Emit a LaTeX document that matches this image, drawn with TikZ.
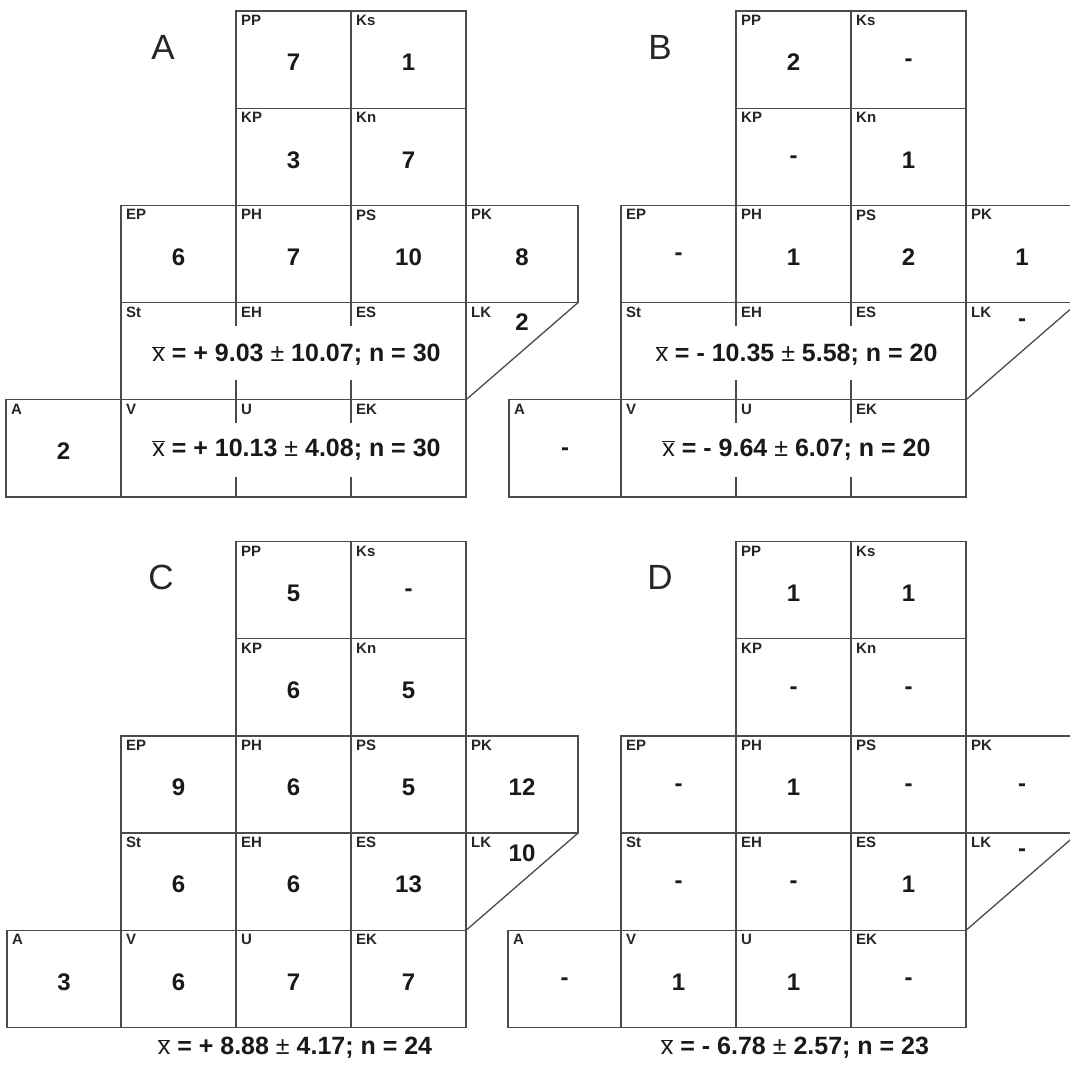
\documentclass[tikz,border=0pt]{standalone}
\usepackage{fontspec}
\setmainfont{Liberation Sans}
\usetikzlibrary{calc}
\definecolor{linec}{RGB}{75,75,75}
\newcommand\xbarsym{{\mdseries$\overline{\mbox{x}}$}}
\newcommand\pmsym{{\mdseries ±}}
\tikzset{
  cellst/.style={draw=linec, line width=1.3pt, rectangle, inner sep=0pt, outer sep=0pt,
                 minimum height=97.2pt, anchor=north west},
  labst/.style={font=\fontsize{15}{15}\selectfont\bfseries, inner sep=0pt, anchor=north west, text=black!85},
  numst/.style={font=\fontsize{24}{24}\selectfont\bfseries, inner sep=0pt, text=black!90},
  formst/.style={font=\fontsize{25}{25}\selectfont\bfseries, inner sep=0pt, text=black!90},
  panelst/.style={font=\fontsize{35}{36}\selectfont, inner sep=0pt, text=black!85},
  edge/.style={draw=linec, line width=1.3pt}
}
% name, x, y, width, label, value
\newcommand\cellbox[6]{%
  \node[cellst, minimum width=#4pt] (#1) at (#2,#3) {};
  \node[labst] (#1-l) at ([shift={(5pt,-4pt)}]#1.north west) {#5};
  \node[numst] (#1-v) at ([yshift=-3pt]#1.center) {#6};
}
% upper part: PP Ks KP Kn EP PH PS PK
\newcommand\upperpart[8]{%
  \cellbox{PP}{0}{0}{115}{PP}{#1}
  \cellbox{Ks}{115}{0}{115}{Ks}{#2}
  \cellbox{KP}{0}{97.2}{115}{KP}{#3}
  \cellbox{Kn}{115}{97.2}{115}{Kn}{#4}
  \cellbox{EP}{-115}{194.4}{115}{EP}{#5}
  \cellbox{PH}{0}{194.4}{115}{PH}{#6}
  \cellbox{PS}{115}{194.4}{115}{PS}{#7}
  \cellbox{PK}{230}{194.4}{112}{PK}{#8}
}
% LK cell: value
\newcommand\lkcell[1]{%
  \coordinate (LKb) at (230,388.8);
  \draw[edge] (PK.south east) -- (LKb);
  \node[labst] (LK-l) at ([shift={(5pt,-4pt)}]PK.south west) {LK};
  \node[numst] (LK-v) at ([shift={(56pt,-20pt)}]PK.south west) {#1};
}
% merged lower part (panels A, B): formula1, formula2
\newcommand\mergedpart[2]{%
  \node[cellst, minimum width=345pt] (StB) at (-115,291.6) {};
  \node[cellst, minimum width=345pt] (VB) at (-115,388.8) {};
  \coordinate (t1) at (0,291.6);
  \coordinate (t2) at (115,291.6);
  \coordinate (b1) at (0,388.8);
  \coordinate (b2) at (115,388.8);
  \coordinate (e1) at (0,486);
  \coordinate (e2) at (115,486);
  \draw[edge] (t1) -- ++(0,23);
  \draw[edge] (t2) -- ++(0,23);
  \draw[edge] (b1) -- ++(0,-20);
  \draw[edge] (b2) -- ++(0,-20);
  \draw[edge] (b1) -- ++(0,23);
  \draw[edge] (b2) -- ++(0,23);
  \draw[edge] (e1) -- ++(0,-20);
  \draw[edge] (e2) -- ++(0,-20);
  \node[labst] (St-l) at ([shift={(5pt,-4pt)}]StB.north west) {St};
  \node[labst] (EH-l) at ([shift={(5pt,-4pt)}]t1) {EH};
  \node[labst] (ES-l) at ([shift={(5pt,-4pt)}]t2) {ES};
  \node[labst] (V-l) at ([shift={(5pt,-4pt)}]VB.north west) {V};
  \node[labst] (U-l) at ([shift={(5pt,-4pt)}]b1) {U};
  \node[labst] (EK-l) at ([shift={(5pt,-4pt)}]b2) {EK};
  \node[formst] (F1) at ([shift={(3pt,-4pt)}]StB.center) {#1};
  \node[formst] (F2) at ([shift={(3pt,-1pt)}]VB.center) {#2};
}
% full lower part (panels C, D): St EH ES V U EK formula
\newcommand\fullpart[7]{%
  \cellbox{St}{-115}{291.6}{115}{St}{#1}
  \cellbox{EH}{0}{291.6}{115}{EH}{#2}
  \cellbox{ES}{115}{291.6}{115}{ES}{#3}
  \cellbox{V}{-115}{388.8}{115}{V}{#4}
  \cellbox{U}{0}{388.8}{115}{U}{#5}
  \cellbox{EK}{115}{388.8}{115}{EK}{#6}
  \node[formst] (F1) at (59,506.5) {#7};
}
\begin{document}
\begin{tikzpicture}[x=1pt, y=-1pt]
\useasboundingbox (0,0) rectangle (1070,1065);
\clip (0,0) rectangle (1070,1065);
\fill[white] (0,0) rectangle (1070,1065);

% Panel A
\begin{scope}[shift={(236,11)}, name prefix=A-]
  \node[panelst] (title) at (-73,36) {A};
  \upperpart{7}{1}{3}{7}{6}{7}{10}{8}
  \cellbox{A}{-230}{388.8}{115}{A}{2}
  \mergedpart{\xbarsym\ = + 9.03 \pmsym\ 10.07; n = 30}{\xbarsym\ = + 10.13 \pmsym\ 4.08; n = 30}
  \lkcell{2}
\end{scope}

% Panel B
\begin{scope}[shift={(736,11)}, name prefix=B-]
  \node[panelst] (title) at (-76,36) {B};
  \upperpart{2}{-}{-}{1}{-}{1}{2}{1}
  \cellbox{A}{-227}{388.8}{112}{A}{-}
  \mergedpart{\xbarsym\ = - 10.35 \pmsym\ 5.58; n = 20}{\xbarsym\ = - 9.64 \pmsym\ 6.07; n = 20}
  \lkcell{-}
\end{scope}

% Panel C
\begin{scope}[shift={(236,541.5)}, name prefix=C-]
  \node[panelst] (title) at (-75,36) {C};
  \upperpart{5}{-}{6}{5}{9}{6}{5}{12}
  \cellbox{A}{-229}{388.8}{114}{A}{3}
  \fullpart{6}{6}{13}{6}{7}{7}{\xbarsym\ = + 8.88 \pmsym\ 4.17; n = 24}
  \lkcell{10}
\end{scope}

% Panel D
\begin{scope}[shift={(736,541.5)}, name prefix=D-]
  \node[panelst] (title) at (-76,36) {D};
  \upperpart{1}{1}{-}{-}{-}{1}{-}{-}
  \cellbox{A}{-228}{388.8}{113}{A}{-}
  \fullpart{-}{-}{1}{1}{1}{-}{\xbarsym\ = - 6.78 \pmsym\ 2.57; n = 23}
  \lkcell{-}
\end{scope}
\end{tikzpicture}
\end{document}
